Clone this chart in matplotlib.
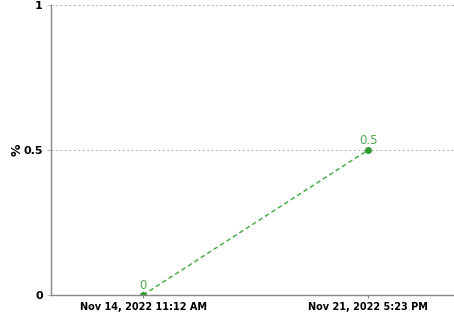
import matplotlib.pyplot as plt

# data
dates = ['Nov 14, 2022 11:12 AM', 'Nov 21, 2022 5:23 PM']
values = [0, 0.5]
value_labels = ['0', '0.5']

fig = plt.figure(figsize=(4.54, 3.16), dpi=100, facecolor='white')
ax = fig.add_axes([51 / 454, 21 / 316, 403 / 454, 290 / 316])

x = list(range(len(dates)))
ax.plot(x, values, color='#4caf4c', linestyle=(0, (3, 2)), linewidth=1.1,
        marker='o', markersize=4, markerfacecolor='#2e9a2e', markeredgecolor='#2e9a2e')

for xi, v, lab in zip(x, values, value_labels):
    ax.text(xi, v + 0.012, lab, color='#55aa55', fontsize=8.5, ha='center', va='bottom')

ax.set_xlim(-0.409, 1.382)
ax.set_ylim(0, 1)
ax.set_xticks(x)
ax.set_xticklabels(dates, fontsize=7, fontweight='bold')
ax.set_yticks([0, 0.5, 1])
ax.set_yticklabels(['0', '0.5', '1'], fontsize=8, fontweight='bold')
ax.tick_params(axis='x', length=2, color='#888888', pad=3)
ax.tick_params(axis='y', length=3, color='#bbbbbb', pad=3)

ax.grid(axis='y', linestyle=(0, (2, 2)), color='#bbbbbb', linewidth=0.8)
ax.set_axisbelow(True)

for s in ['top', 'right']:
    ax.spines[s].set_visible(False)
for s in ['left', 'bottom']:
    ax.spines[s].set_color('#888888')
    ax.spines[s].set_linewidth(1)

ax.set_ylabel('%', fontsize=9, fontweight='bold')
ax.yaxis.set_label_coords(-0.068, 0.5)

fig.savefig('out.png', dpi=100, facecolor='white')
